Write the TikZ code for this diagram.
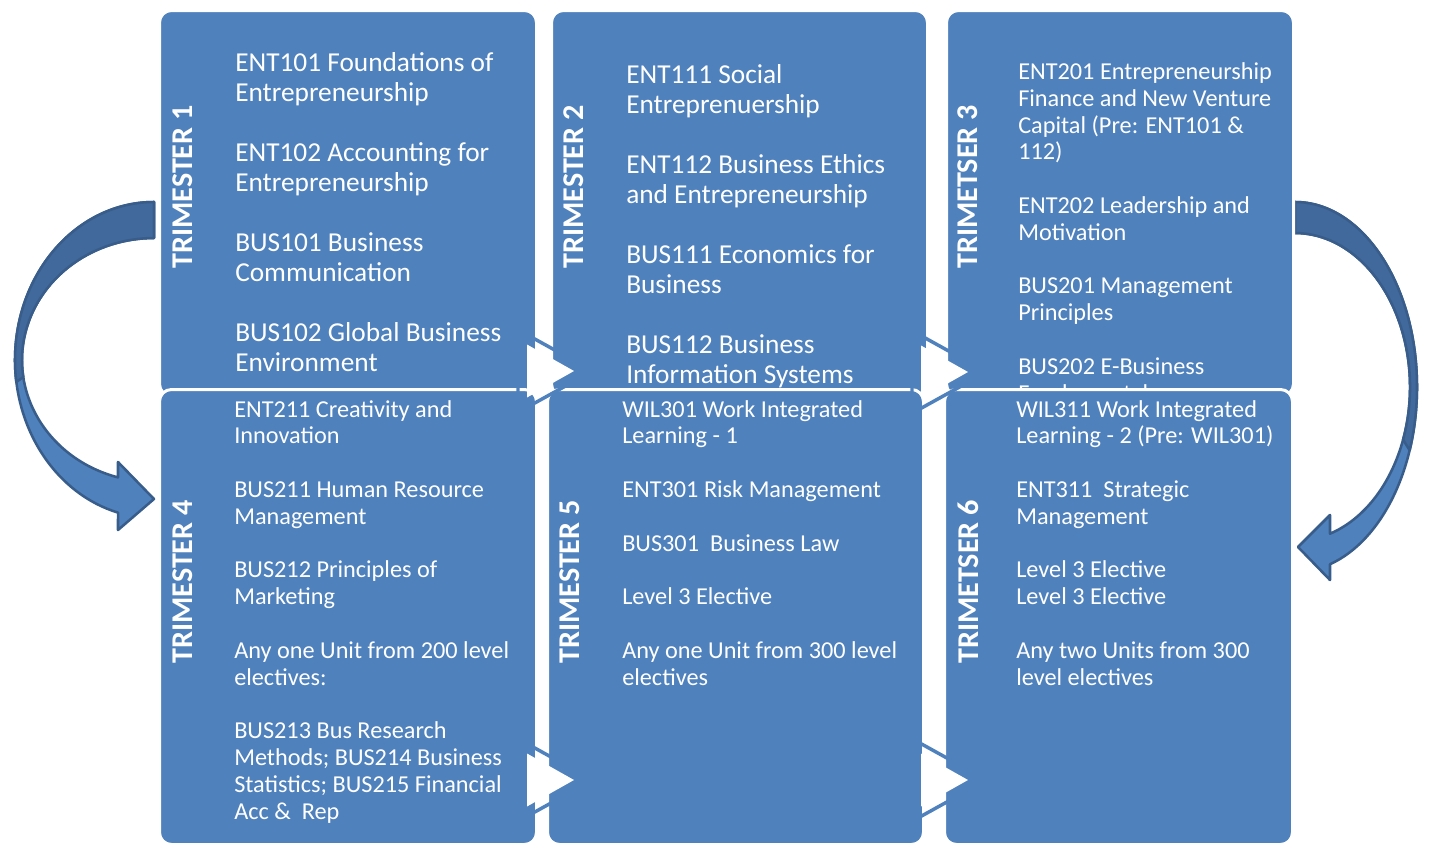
\documentclass[tikz,border=0pt]{standalone}
\usepackage{fontspec}
\setmainfont{Carlito}
\definecolor{boxblue}{HTML}{4F81BD}
\definecolor{arrowdark}{HTML}{41699C}
\definecolor{arrowline}{HTML}{385D8A}
\tikzset{
  stagebox/.style={fill=boxblue, draw=white, line width=2.25pt, rounded corners=9pt},
  coursebig/.style={text=white, anchor=base west, inner sep=0pt, align=left,
    font=\fontsize{20.5pt}{22.5pt}\selectfont},
  coursesmall/.style={text=white, anchor=base west, inner sep=0pt, align=left,
    font=\fontsize{18.2pt}{20.1pt}\selectfont},
  stagelabel/.style={text=white, rotate=90, inner sep=0pt,
    font=\fontsize{22.6pt}{24pt}\selectfont\bfseries},
  curvelight/.style={fill=boxblue, draw=arrowline, line width=1.9pt, line join=round},
  curvedark/.style={fill=arrowdark, draw=arrowline, line width=1.9pt, line join=round},
  procarrow/.pic={
    \draw[boxblue, line width=2.6pt] (-9,-41.3) -- (65.6,0) -- (-9,41.3) -- cycle;
    \fill[white] (0,-26.5) -- (47,0) -- (0,26.5) -- cycle;
  }
}
\begin{document}
\begin{tikzpicture}[x=0.75pt,y={(0pt,-0.75pt)}]
\useasboundingbox (0,0) rectangle (1432,857);

% curved arrow left (trimester 1 -> 4)
\path[curvelight] (154,202) arc[start angle=270, end angle=105, x radius=139, y radius=158]
  -- (118,530) -- (154,499) -- (118,462) -- (118,477.4)
  arc[start angle=105.83, end angle=270, x radius=132, y radius=122] -- cycle;
\path[curvedark] (154,202) arc[start angle=270, end angle=172, x radius=139, y radius=158]
  -- (23.3,377) arc[start angle=172, end angle=270, x radius=132, y radius=122] -- cycle;

% curved arrow right (trimester 3 -> 6)
\path[curvelight] (1295,202) arc[start angle=270, end angle=433.33, x radius=122, y radius=185]
  -- (1330,580) -- (1298,547) -- (1330,515) -- (1330,533.7)
  arc[start angle=72.28, end angle=-90, x radius=115, y radius=154] -- cycle;
\path[curvedark] (1295,202) arc[start angle=270, end angle=380, x radius=122, y radius=185]
  -- (1403.1,439.7) arc[start angle=20, end angle=-90, x radius=115, y radius=154] -- cycle;

% top row
\path[stagebox] (159.5,10.5) rectangle (536.5,396);
\path[stagebox] (551.5,10.5) rectangle (927.5,396);
\path[stagebox] (946.5,10.5) rectangle (1293.5,396);

\node[stagelabel] (l1) at (183,187) {TRIMESTER 1};
\node[stagelabel] (l2) at (574,187) {TRIMESTER 2};
\node[stagelabel] (l3) at (968,187) {TRIMETSER 3};

\node[coursebig] (c1) at (235,371) {ENT101 Foundations of\\Entrepreneurship\\[22.5pt]ENT102 Accounting for\\Entrepreneurship\\[22.5pt]BUS101 Business\\Communication\\[22.5pt]BUS102 Global Business\\Environment};
\node[coursebig] (c2) at (626,383) {ENT111 Social\\Entreprenuership\\[22.5pt]ENT112 Business Ethics\\and Entrepreneurship\\[22.5pt]BUS111 Economics for\\Business\\[22.5pt]BUS112 Business\\Information Systems};
\node[coursesmall] (c3) at (1018,401) {ENT201 Entrepreneurship\\Finance and New Venture\\Capital (Pre: ENT101 \&\\112)\\[20.1pt]ENT202 Leadership and\\Motivation\\[20.1pt]BUS201 Management\\Principles\\[20.1pt]BUS202 E-Business\\Fundamentals};

% bottom row
\path[stagebox] (159.5,389.5) rectangle (536.5,844.5);
\path[stagebox] (547.5,389.5) rectangle (923.5,844.5);
\path[stagebox] (944.5,389.5) rectangle (1292.5,844.5);

\node[stagelabel] (l4) at (183,582) {TRIMESTER 4};
\node[stagelabel] (l5) at (570,582) {TRIMESTER 5};
\node[stagelabel] (l6) at (968,582) {TRIMETSER 6};

\node[coursesmall] (c4) at (234,819) {ENT211 Creativity and\\Innovation\\[20.1pt]BUS211 Human Resource\\Management\\[20.1pt]BUS212 Principles of\\Marketing\\[20.1pt]Any one Unit from 200 level\\electives:\\[20.1pt]BUS213 Bus Research\\Methods; BUS214 Business\\Statistics; BUS215 Financial\\Acc \&~ Rep};
\node[coursesmall] (c5) at (622,685) {WIL301 Work Integrated\\Learning - 1\\[20.1pt]ENT301 Risk Management\\[20.1pt]BUS301~ Business Law\\[20.1pt]Level 3 Elective\\[20.1pt]Any one Unit from 300 level\\electives};
\node[coursesmall] (c6) at (1016,685) {WIL311 Work Integrated\\Learning - 2 (Pre: WIL301)\\[20.1pt]ENT311~ Strategic\\Management\\[20.1pt]Level 3 Elective\\Level 3 Elective\\[20.1pt]Any two Units from 300\\level electives};

% process arrows
\pic at (527,371) {procarrow};
\pic at (921,372) {procarrow};
\pic at (527,780) {procarrow};
\pic at (921,780) {procarrow};
\end{tikzpicture}
\end{document}
